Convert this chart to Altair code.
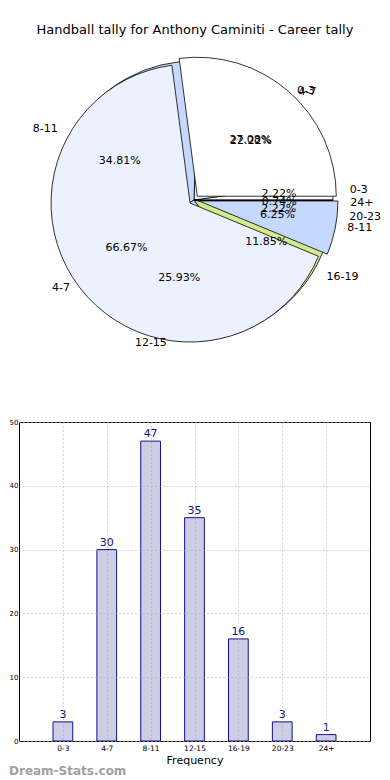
import json
import altair as alt
import pandas as pd

# ---------------- data ----------------
categories = ["0-3", "4-7", "8-11", "12-15", "16-19", "20-23", "24+"]
counts = [3, 30, 47, 35, 16, 3, 1]
outer_colors = ["#ffffff", "#eaf1fe", "#c6d9fd", "#c6d9fd", "#d4eb8c", "#c6d9fd", "#111111"]

inner_categories = ["0-3", "4-7", "8-11"]
inner_counts = [13, 32, 3]
inner_colors = ["#ffffff", "#ebf2fe", "#c5d9fe"]

title_text = "Handball tally for Anthony Caminiti - Career tally"
watermark = "Dream-Stats.com"

FONT = "DejaVu Sans"

# pie geometry (panel pixels); text placed on the reference's elliptical radii
CX, CY, R = 175, 192, 139
RX, RY = 142, 132

outer_df = pd.DataFrame({"idx": range(len(categories)), "cat": categories,
                         "val": counts, "col": outer_colors})
inner_df = pd.DataFrame({"idx": range(len(inner_categories)), "cat": inner_categories,
                         "val": inner_counts, "col": inner_colors})


def pie_base(df, explode, dx=0, dy=0):
    return (
        alt.Chart(df)
        .transform_joinaggregate(total="sum(val)")
        .transform_window(cum="sum(val)", sort=[alt.SortField("idx")], frame=[None, 0])
        .transform_calculate(
            phi0="2*PI*(datum.cum - datum.val)/datum.total",
            phi1="2*PI*datum.cum/datum.total",
        )
        .transform_calculate(
            t0="PI/2 - datum.phi1",
            t1="PI/2 - datum.phi0",
            phim="(datum.phi0 + datum.phi1)/2",
        )
        .transform_calculate(
            px=f"{CX + dx} + {explode}*cos(datum.phim)",
            py=f"{CY + dy} - {explode}*sin(datum.phim)",
            pct="format(100*datum.val/datum.total, '.2f') + '%'",
        )
        .transform_calculate(
            lx=f"{CX} + {1.1 * RX}*cos(datum.phim)",
            ly=f"{CY} - {1.1 * RY}*sin(datum.phim)",
            ax=f"{CX} + {0.6 * RX}*cos(datum.phim)",
            ay=f"{CY} - {0.6 * RY}*sin(datum.phim)",
            side="cos(datum.phim) >= 0 ? 'right' : 'left'",
        )
    )


def wedges(df, explode, dx=0, dy=0, fill=None, opacity=1.0, stroke="black"):
    base = pie_base(df, explode, dx, dy)
    enc = dict(
        theta=alt.Theta("t0:Q", scale=None),
        theta2="t1:Q",
        x=alt.X("px:Q", scale=None),
        y=alt.Y("py:Q", scale=None),
        radius=alt.value(R),
    )
    if fill is None:
        enc["color"] = alt.Color("col:N", scale=None)
    else:
        enc["color"] = alt.value(fill)
    mk = dict(strokeWidth=0.8, opacity=opacity)
    if stroke is not None:
        mk["stroke"] = stroke
    return base.mark_arc(**mk).encode(**enc)


def labels(df, explode):
    base = pie_base(df, explode)
    right = base.transform_filter("datum.side == 'right'").mark_text(
        align="left", baseline="middle", font=FONT, fontSize=11, color="black"
    ).encode(x=alt.X("lx:Q", scale=None), y=alt.Y("ly:Q", scale=None), text="cat:N")
    left = base.transform_filter("datum.side == 'left'").mark_text(
        align="right", baseline="middle", font=FONT, fontSize=11, color="black"
    ).encode(x=alt.X("lx:Q", scale=None), y=alt.Y("ly:Q", scale=None), text="cat:N")
    pct = base.mark_text(
        align="center", baseline="middle", font=FONT, fontSize=11, color="black"
    ).encode(x=alt.X("ax:Q", scale=None), y=alt.Y("ay:Q", scale=None), text="pct:N")
    return [right, left, pct]


title_layer = alt.Chart(pd.DataFrame({"t": [title_text]})).mark_text(
    font=FONT, fontSize=13, color="black", align="center", baseline="middle"
).encode(x=alt.value(176), y=alt.value(22), text="t:N")

top = alt.layer(
    wedges(outer_df, 0, dx=-3, dy=3, fill="#777777", opacity=0.6, stroke=None),
    wedges(outer_df, 0),
    wedges(inner_df, 5),
    *labels(outer_df, 0),
    *labels(inner_df, 5),
    title_layer,
).properties(width=351, height=380, view=alt.ViewBackground(stroke=None))

# ---------------- bar chart ----------------
bar_df = pd.DataFrame({"cat": categories, "count": counts, "i": range(len(categories))})
label_expr = json.dumps(categories).replace('"', "'") + "[datum.value]"

xscale = alt.Scale(domain=[-1, 7], nice=False, zero=False)
yscale = alt.Scale(domain=[0, 50], nice=False)

bar_base = alt.Chart(bar_df).transform_calculate(
    i0="datum.i - 0.225", i1="datum.i + 0.225"
)

bars = bar_base.mark_bar(fill="#cdcde6", stroke="#10108c", strokeWidth=1).encode(
    x=alt.X("i0:Q", scale=xscale, title="Frequency",
            axis=alt.Axis(values=list(range(len(categories))), labelExpr=label_expr,
                          grid=True, gridDash=[1, 3], gridColor="#a8a8a8", ticks=False,
                          labelFontSize=7.5, labelFont=FONT, labelPadding=3, labelColor="black",
                          titleFont=FONT, titleFontSize=11, titleFontWeight="normal",
                          titlePadding=3, domain=False, zindex=1)),
    x2="i1:Q",
    y=alt.Y("count:Q", scale=yscale, title=None,
            axis=alt.Axis(values=list(range(0, 51, 10)), grid=True, gridDash=[1, 3],
                          gridColor="#a8a8a8", ticks=False, labelFontSize=7, labelFont=FONT,
                          labelPadding=1, labelColor="black", domain=False, zindex=1)),
    y2=alt.datum(0),
)

bar_text = alt.Chart(bar_df).mark_text(
    baseline="bottom", dy=-2, font=FONT, fontSize=11, color="#10108c"
).encode(x=alt.X("i:Q", scale=xscale), y=alt.Y("count:Q", scale=yscale), text="count:Q")

wm = alt.Chart(pd.DataFrame({"t": [watermark]})).mark_text(
    font=FONT, fontSize=12, fontWeight="bold", color="#a0a0a0", align="left", baseline="middle"
).encode(x=alt.value(-10), y=alt.value(349), text="t:N")

bottom = alt.layer(bars, bar_text, wm).properties(width=351, height=319)

chart = alt.vconcat(top, bottom, spacing=29).properties(padding=0).configure_view(
    stroke="black", strokeWidth=1
)

chart.save("out.html", embed_options={"renderer": "svg", "actions": False})
